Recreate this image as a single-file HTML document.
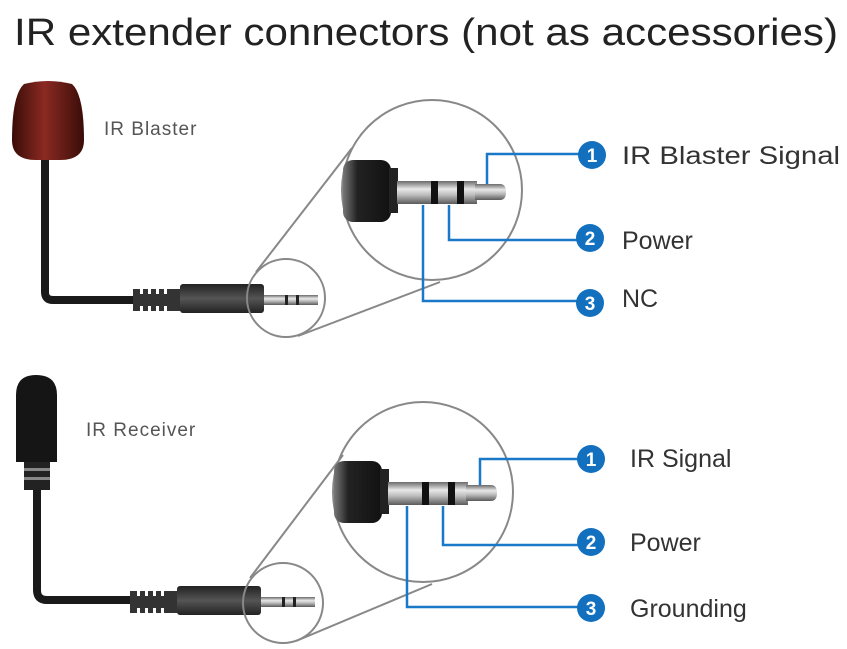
<!DOCTYPE html>
<html><head><meta charset="utf-8"><style>
html,body{margin:0;padding:0;background:#fff;}
svg{display:block;}
</style></head><body>
<svg width="847" height="649" viewBox="0 0 847 649" xmlns="http://www.w3.org/2000/svg">
<defs>
<linearGradient id="bulb" x1="0" y1="0" x2="1" y2="0">
<stop offset="0" stop-color="#3a0c08"/><stop offset="0.45" stop-color="#8a2a22"/><stop offset="1" stop-color="#3a0c08"/>
</linearGradient>
<linearGradient id="metal" x1="0" y1="0" x2="0" y2="1">
<stop offset="0" stop-color="#6a6a6a"/><stop offset="0.35" stop-color="#e8e8e8"/><stop offset="0.6" stop-color="#bdbdbd"/><stop offset="1" stop-color="#5a5a5a"/>
</linearGradient>
<linearGradient id="body" x1="0" y1="0" x2="1" y2="0">
<stop offset="0" stop-color="#777"/><stop offset="0.3" stop-color="#222"/><stop offset="1" stop-color="#111"/>
</linearGradient>
<linearGradient id="boot" x1="0" y1="0" x2="0" y2="1">
<stop offset="0" stop-color="#222"/><stop offset="0.5" stop-color="#555"/><stop offset="1" stop-color="#222"/>
</linearGradient>
<g id="jack">
<rect x="343" y="160" width="48" height="62" rx="10" fill="url(#body)"/>
<rect x="389" y="168" width="9" height="45" fill="#222"/>
<rect x="397" y="181" width="80" height="23" fill="url(#metal)"/>
<path d="M475 184 H500 Q506 184 506 192 Q506 200 500 200 H475 Z" fill="url(#metal)"/>
<rect x="431" y="181" width="7" height="23" fill="#111"/>
<rect x="457" y="181" width="7" height="23" fill="#111"/>
</g>
<g id="plug">
<rect x="133" y="289" width="50" height="22" fill="#333"/>
<g fill="#fff"><rect x="140" y="289" width="3" height="5"/><rect x="148" y="289" width="3" height="5"/><rect x="156" y="289" width="3" height="5"/><rect x="164" y="289" width="3" height="5"/><rect x="140" y="306" width="3" height="5"/><rect x="148" y="306" width="3" height="5"/><rect x="156" y="306" width="3" height="5"/><rect x="164" y="306" width="3" height="5"/></g>
<rect x="180" y="284" width="84" height="29" rx="3" fill="url(#boot)"/>
<rect x="264" y="295" width="54" height="10" fill="url(#metal)"/>
<rect x="285" y="295" width="3" height="10" fill="#222"/><rect x="296" y="295" width="3" height="10" fill="#222"/>
</g>
</defs>

<text x="14" y="45" font-family="Liberation Sans, sans-serif" font-size="38" fill="#222" textLength="824" lengthAdjust="spacingAndGlyphs">IR extender connectors (not as accessories)</text>

<!-- Blaster -->
<path d="M45 158 V292 Q45 300 53 300 H140" fill="none" stroke="#1a1a1a" stroke-width="8"/>
<path d="M24 84 Q48 78 72 84 Q84 95 84 140 Q84 160 60 160 H36 Q12 160 12 140 Q12 95 24 84 Z" fill="url(#bulb)"/>
<text x="104" y="135" font-family="Liberation Sans, sans-serif" font-size="19" fill="#555" letter-spacing="1">IR Blaster</text>
<use href="#plug"/>
<circle cx="286" cy="298" r="39" fill="none" stroke="#888" stroke-width="2"/>
<line x1="256" y1="272" x2="352" y2="148" stroke="#888" stroke-width="2"/>
<line x1="298" y1="336" x2="440" y2="282" stroke="#888" stroke-width="2"/>
<circle cx="432" cy="190" r="90" fill="none" stroke="#888" stroke-width="2"/>
<use href="#jack"/>
<g fill="none" stroke="#1a78c8" stroke-width="2.5">
<path d="M487 184 V154 H580"/><path d="M449 205 V240 H580"/><path d="M423 205 V301 H580"/>
</g>

<!-- Receiver -->
<path d="M37 488 V590 Q37 600 47 600 H135" fill="none" stroke="#1a1a1a" stroke-width="8"/>
<path d="M16 395 Q16 375 36 375 Q57 375 57 395 V462 H16 Z" fill="#151515"/>
<rect x="24" y="462" width="26" height="28" fill="#222"/>
<rect x="24" y="468" width="26" height="3" fill="#888"/><rect x="24" y="477" width="26" height="3" fill="#888"/>
<text x="86" y="436" font-family="Liberation Sans, sans-serif" font-size="19" fill="#555" letter-spacing="1">IR Receiver</text>
<use href="#plug" transform="translate(-3,302)"/>
<circle cx="283" cy="603" r="40" fill="none" stroke="#888" stroke-width="2"/>
<line x1="250" y1="578" x2="343" y2="455" stroke="#888" stroke-width="2"/>
<line x1="296" y1="641" x2="432" y2="584" stroke="#888" stroke-width="2"/>
<circle cx="423" cy="492" r="90" fill="none" stroke="#888" stroke-width="2"/>
<use href="#jack" transform="translate(-9,301)"/>
<g fill="none" stroke="#1a78c8" stroke-width="2.5">
<path d="M480 485 V459 H580"/><path d="M443 506 V545 H580"/><path d="M407 506 V607 H580"/>
</g>

<!-- number badges -->
<g font-family="Liberation Sans, sans-serif" font-size="19" font-weight="bold" fill="#fff" text-anchor="middle">
<circle cx="592" cy="155" r="14" fill="#1270bf"/><text x="592" y="162">1</text>
<circle cx="590" cy="238" r="14" fill="#1270bf"/><text x="590" y="245">2</text>
<circle cx="590" cy="303" r="14" fill="#1270bf"/><text x="590" y="310">3</text>
<circle cx="591" cy="459" r="14" fill="#1270bf"/><text x="591" y="466">1</text>
<circle cx="591" cy="542" r="14" fill="#1270bf"/><text x="591" y="549">2</text>
<circle cx="591" cy="608" r="14" fill="#1270bf"/><text x="591" y="615">3</text>
</g>
<g font-family="Liberation Sans, sans-serif" font-size="25" fill="#333">
<text x="622" y="164" textLength="218" lengthAdjust="spacingAndGlyphs">IR Blaster Signal</text>
<text x="622" y="249">Power</text>
<text x="622" y="307">NC</text>
<text x="630" y="467">IR Signal</text>
<text x="630" y="551">Power</text>
<text x="630" y="617">Grounding</text>
</g>
</svg>
</body></html>
